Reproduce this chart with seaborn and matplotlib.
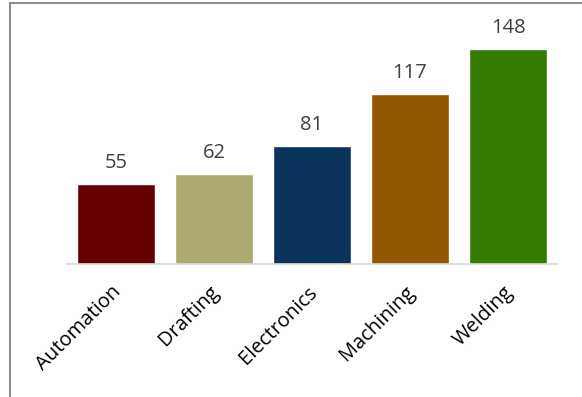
import matplotlib
matplotlib.use("Agg")
import pandas as pd
import numpy as np
from matplotlib import pyplot as plt
from matplotlib.lines import Line2D
from matplotlib.transforms import ScaledTranslation
import seaborn as sns

# %% Data
programs = ["Automation", "Drafting", "Electronics", "Machining", "Welding"]
counts = [55, 62, 81, 117, 148]
colors = ["#640000", "#ACAA6F", "#0B345C", "#925700", "#347C00"]

# %% Plot
sns.set_style("white")
plt.rcParams["font.family"] = ["Open Sans", "DejaVu Sans"]

df = pd.DataFrame({"program": programs, "count": counts})

my_dpi = 100
fig = plt.figure(figsize=(582 / my_dpi, 397 / my_dpi), dpi=my_dpi)
ax = fig.add_axes([67 / 582, 1 - 264 / 397, 490 / 582, (264 - 31.5) / 397])

sns.barplot(data=df, x="program", y="count", hue="program", palette=colors,
            width=0.79, saturation=1, legend=False, ax=ax)

ax.set_xlim(-0.5, 4.5)
ax.set_ylim(0, 160)
ax.set_xlabel("")
ax.set_ylabel("")
ax.set_yticks([])
for s in ["top", "right", "left"]:
    ax.spines[s].set_visible(False)
ax.spines["bottom"].set_color("#D9D9D9")
ax.spines["bottom"].set_linewidth(1.2)

for i, v in enumerate(counts):
    ax.annotate(str(v), (i, v), xytext=(0, 8), textcoords="offset points",
                ha="center", va="bottom", fontsize=14.5, color="#404040")

ax.set_xticks(range(len(programs)))
ax.set_xticklabels(programs, rotation=45, ha="right", rotation_mode="anchor",
                   fontsize=14.5, color="black")
ax.tick_params(axis="x", length=0, pad=13)
shift = ScaledTranslation(-5 / my_dpi, 0, fig.dpi_scale_trans)
for lbl in ax.get_xticklabels():
    lbl.set_transform(lbl.get_transform() + shift)

# figure border (top and left visible)
fig.add_artist(Line2D([9.5 / 582, 9.5 / 582], [0, 1 - 2.5 / 397], color="#8C8C8C", lw=1.5,
                      transform=fig.transFigure))
fig.add_artist(Line2D([9.5 / 582, 1], [1 - 2.5 / 397, 1 - 2.5 / 397], color="#8C8C8C", lw=1.5,
                      transform=fig.transFigure))

plt.savefig("out.png", dpi=my_dpi)
plt.close()
